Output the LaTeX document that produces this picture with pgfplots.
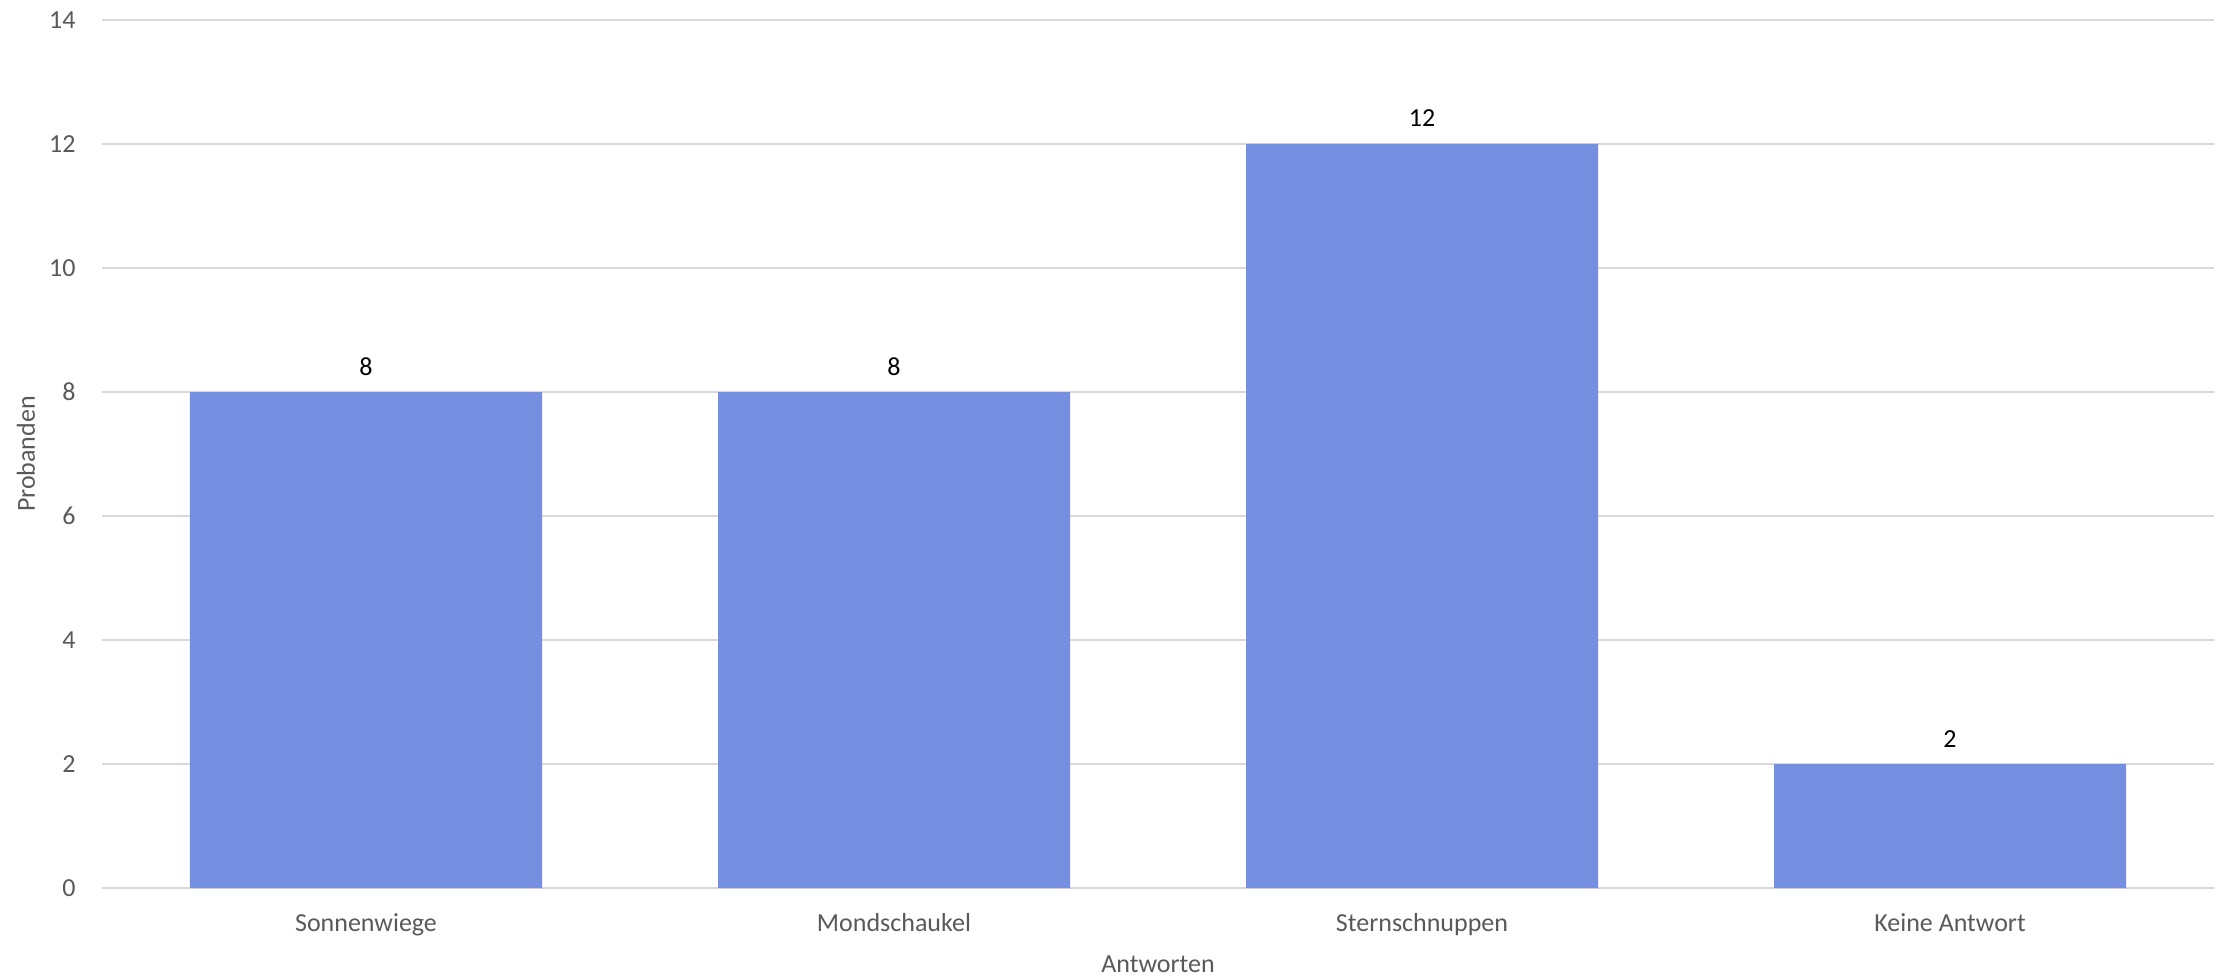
\documentclass[border=0pt]{standalone}
\usepackage{fontspec}
\setmainfont{Carlito}
\usepackage{pgfplots}
\pgfplotsset{compat=1.18}
\definecolor{barblue}{RGB}{117,143,224}
\definecolor{gridgray}{RGB}{217,217,217}
\definecolor{txtgray}{RGB}{89,89,89}
\begin{document}
\begin{tikzpicture}
\begin{axis}[
  name=ax,
  at={(0,0)}, anchor=south west,
  scale only axis,
  width=1056pt, height=434pt,
  xmin=-0.5, xmax=3.5,
  ymin=0, ymax=14,
  ytick={0,2,...,14},
  xtick={0,1,2,3},
  xticklabels={Sonnenwiege,Mondschaukel,Sternschnuppen,Keine Antwort},
  axis line style={draw=none},
  major tick length=0pt,
  ymajorgrids,
  major grid style={gridgray, line width=1pt},
  font=\fontsize{13}{15}\selectfont,
  /pgf/number format/assume math mode=true,
  ticklabel style={text=txtgray},
  yticklabel style={anchor=east, inner sep=0pt, xshift=-13pt},
  xticklabel style={anchor=base, inner sep=0pt, yshift=-21.5pt},
  xlabel={Antworten},
  ylabel={Probanden},
  label style={text=txtgray},
  xlabel style={at={(axis description cs:0.5,0)}, anchor=base, inner sep=0pt, yshift=-42pt},
  ylabel style={at={(axis description cs:0,0.5)}, anchor=base, inner sep=0pt, yshift=33.5pt},
  every node near coord/.append style={anchor=base, inner sep=0pt, yshift=8.5pt, text=black, font=\fontsize{13}{15}\selectfont},
]
\addplot[ybar, bar width=176pt, fill=barblue, draw=none, nodes near coords] coordinates {
  (0,8) (1,8) (2,12) (3,2)
};
\end{axis}
\pgfresetboundingbox
\path ([shift={(-51pt,-45.5pt)}]ax.south west) rectangle ([shift={(5pt,10pt)}]ax.north east);
\end{tikzpicture}
\end{document}
